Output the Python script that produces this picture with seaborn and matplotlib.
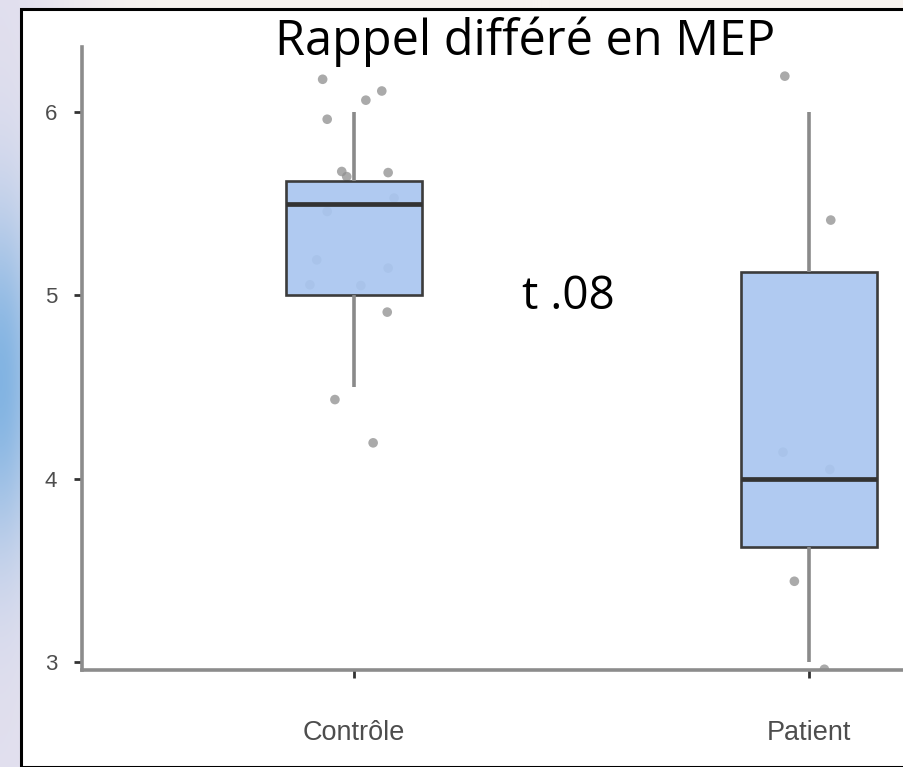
import numpy as np
import pandas as pd
import matplotlib
matplotlib.use("Agg")
import matplotlib.pyplot as plt
from matplotlib.patches import Rectangle
import seaborn as sns

# Scores per group (boxes are computed from these)
groups = ["Contrôle", "Patient"]
ctrl_scores = [6, 6, 6, 6, 5.5, 5.5, 5.5, 5.5, 5.5, 5, 5, 5, 5, 5, 4.5, 4.0]
pat_scores = [6, 5.5, 4, 4, 3.5, 3]

# Jitter applied to each displayed point (horizontal, vertical)
ctrl_dx = [-0.069, 0.061, 0.026, -0.059, -0.027, 0.075, -0.016, 0.088,
           -0.059, -0.082, 0.075, -0.097, 0.015, 0.073, -0.042, 0.042]
ctrl_dy = [0.178, 0.114, 0.064, -0.040, 0.175, 0.169, 0.147, 0.030,
           -0.043, 0.193, 0.148, 0.057, 0.053, -0.092, -0.069, 0.195]
pat_dx = [-0.053, 0.048, -0.057, 0.046, -0.032, 0.034]
pat_dy = [0.195, -0.090, 0.144, 0.050, -0.060, -0.040]

title = "Rappel différé en MEP"
annotation = "t .08"
y_ticks = [3, 4, 5, 6]

df = pd.DataFrame({
    "group": [groups[0]] * len(ctrl_scores) + [groups[1]] * len(pat_scores),
    "score": ctrl_scores + pat_scores,
})
pts = pd.DataFrame({
    "x": [0 + d for d in ctrl_dx] + [1 + d for d in pat_dx],
    "y": [s + d for s, d in zip(ctrl_scores, ctrl_dy)] + [s + d for s, d in zip(pat_scores, pat_dy)],
})

W, H = 904, 767
fig = plt.figure(figsize=(W / 100, H / 100), dpi=100)

# Soft slide background behind the white panel
bg_ax = fig.add_axes([0, 0, 1, 1], zorder=-10)
yy, xx = np.mgrid[0:H, 0:W]
cream = np.array([247, 243, 239]) / 255
lav = np.array([222, 220, 238]) / 255
blue = np.array([120, 175, 225]) / 255
w_lav = np.exp(-(xx / 90.0) ** 2)[..., None] * 0.85
w_blue = (np.exp(-((yy - 380) / 170.0) ** 2) * np.exp(-(xx / 40.0) ** 2))[..., None] * 0.9
img = cream * (1 - w_lav) + lav * w_lav
img = img * (1 - w_blue) + blue * w_blue
bg_ax.imshow(img, extent=[0, W, H, 0], aspect="auto")
bg_ax.set_xlim(0, W)
bg_ax.set_ylim(H, 0)
bg_ax.axis("off")

# White panel with black frame
fig.patches.append(Rectangle((21 / W, 0), 1.0, (H - 9) / H, transform=fig.transFigure,
                             facecolor="white", edgecolor="black", linewidth=2.2,
                             zorder=-5))

ax = fig.add_axes([82 / W, (H - 670) / H, (W - 82) / W, (670 - 47) / H])
ax.patch.set_alpha(0)

sns.scatterplot(data=pts, x="x", y="y", ax=ax, color="#8e8e8e", alpha=0.75,
                s=48, edgecolor="none", linewidth=0, zorder=0.5, legend=False)

sns.boxplot(data=df, x="group", y="score", order=groups, ax=ax, width=0.30,
            showfliers=False, showcaps=False, whis=1.5,
            boxprops=dict(facecolor="#a9c6f0", edgecolor="#3c3c3c", linewidth=1.9),
            whiskerprops=dict(color="#8a8a8a", linewidth=2.6),
            medianprops=dict(color="#333333", linewidth=3.4),
            zorder=2)
for p in ax.patches:
    p.set_facecolor((0.663, 0.776, 0.941, 0.92))
    p.set_edgecolor("#3c3c3c")

ax.set_xlim(-0.598, 1.209)
ax.set_ylim(2.956, 6.354)
ax.set_yticks(y_ticks)
ax.set_xlabel("")
ax.set_ylabel("")

for side in ["top", "right"]:
    ax.spines[side].set_visible(False)
for side in ["left", "bottom"]:
    ax.spines[side].set_color("#8c8c8c")
    ax.spines[side].set_linewidth(2.6)

ax.tick_params(axis="both", colors="#333333", length=6, width=2.0)
ax.tick_params(axis="y", labelsize=16, labelcolor="#4d4d4d", pad=12)
ax.tick_params(axis="x", labelsize=19.5, labelcolor="#4d4d4d", pad=30)
for lab in ax.get_xticklabels() + ax.get_yticklabels():
    lab.set_family(["Liberation Sans", "DejaVu Sans"])

fig.text(525 / W, 1 - 42 / H, title, ha="center", va="center", fontsize=35,
         family=["Open Sans", "DejaVu Sans"], color="black")
fig.text(568 / W, 1 - 297 / H, annotation, ha="center", va="center", fontsize=33,
         family=["Open Sans", "DejaVu Sans"], color="black")

fig.savefig("out.png", dpi=100)
